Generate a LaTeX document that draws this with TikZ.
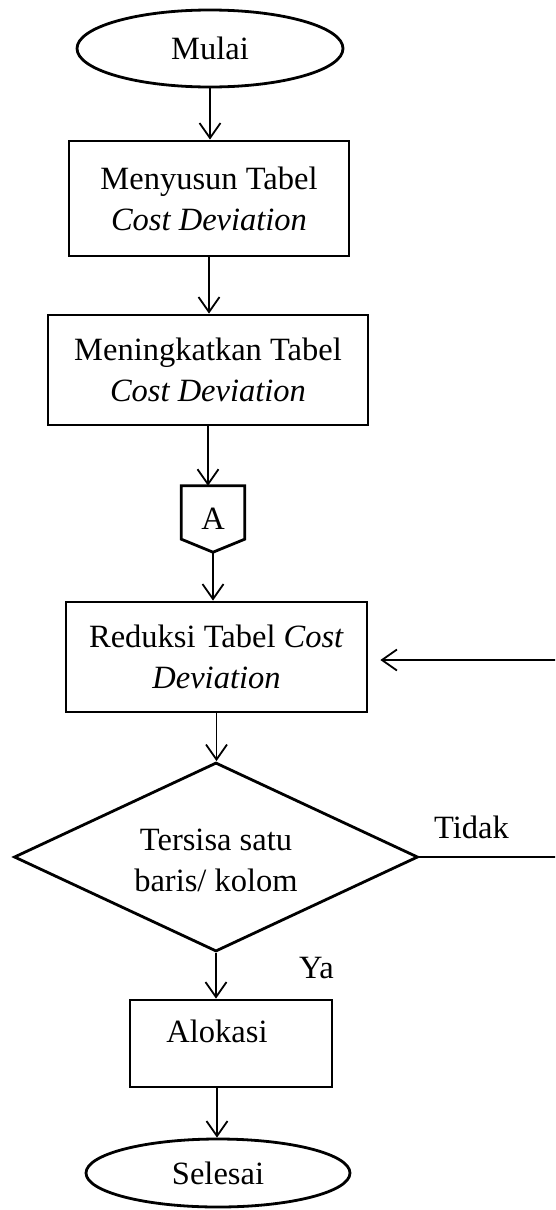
\documentclass[tikz,border=0pt]{standalone}
\usepackage{fontspec}
\setmainfont{Liberation Serif}
\usetikzlibrary{arrows.meta,shapes.geometric}
\begin{document}
\begin{tikzpicture}[x=1pt,y=-1pt,
  every node/.style={font=\fontsize{32.5}{41}\selectfont},
  shp/.style={draw,line width=2.8pt,inner sep=0pt},
  box/.style={shp,rectangle,align=center},
  term/.style={shp,ellipse},
  conn/.style={line width=1.8pt,-{Straight Barb[length=15pt,width=21pt,line width=1.8pt]}},
  plain/.style={line width=1.8pt}]
\useasboundingbox (0,0) rectangle (555,1210);
\clip (0,0) rectangle (555,1210);
\fill[white] (0,0) rectangle (555,1210);

\node[term,minimum width=266pt,minimum height=77pt] (mulai) at (210,48.5) {Mulai};
\node[box,minimum width=280pt,minimum height=115pt] (b1) at (209,198.5) {Menyusun Tabel\\\textit{Cost Deviation}};
\node[box,minimum width=320pt,minimum height=110pt] (b2) at (208,370) {Meningkatkan Tabel\\\textit{Cost Deviation}};
\node[rectangle,inner sep=0pt,minimum width=63pt,minimum height=66pt] (A) at (213,519) {A};
\draw[line width=2.8pt,line join=miter] (A.north west) -- (A.north east) -- ([yshift=13pt]A.south east) -- (A.south) -- ([yshift=13pt]A.south west) -- cycle;
\node[box,minimum width=301pt,minimum height=110pt] (b3) at (216.5,657) {Reduksi Tabel \textit{Cost}\\\textit{Deviation}};
\node[shp,diamond,aspect=2.14,minimum width=404pt,minimum height=189pt] (dec) at (216,857) {};
\node[align=center,inner sep=0pt] (dect) at (216,860) {Tersisa satu\\baris/ kolom};
\node[box,minimum width=202pt,minimum height=87pt] (alok) at (231,1043.5) {};
\node[anchor=base,inner sep=0pt] (alokt) at (217,1042) {Alokasi};
\node[term,minimum width=264pt,minimum height=68pt] (sel) at (218,1173) {Selesai};

\node[anchor=base west,inner sep=0pt] (tidak) at (434,838) {Tidak};
\node[anchor=base west,inner sep=0pt] (ya) at (299,978) {Ya};

\coordinate (r1) at (562,859);
\coordinate (r2) at (562,660);

\draw[conn] (mulai.south) -- (mulai.south |- b1.north);
\draw[conn] (b1.south) -- (b1.south |- b2.north);
\draw[conn] (b2.south) -- (b2.south |- A.north);
\draw[conn] (A.south) -- (A.south |- b3.north);
\draw[conn] (b3.south) -- (b3.south |- dec.north);
\draw[conn] (dec.south) -- (dec.south |- alok.north);
\draw[conn] (alok.south -| alokt) -- (alokt |- sel.north);
\draw[plain] (dec.east) -- (dec.east -| r1) -- (r2);
\draw[conn,shorten >=12pt] (r2) -- (r2 -| b3.east);
\end{tikzpicture}
\end{document}
